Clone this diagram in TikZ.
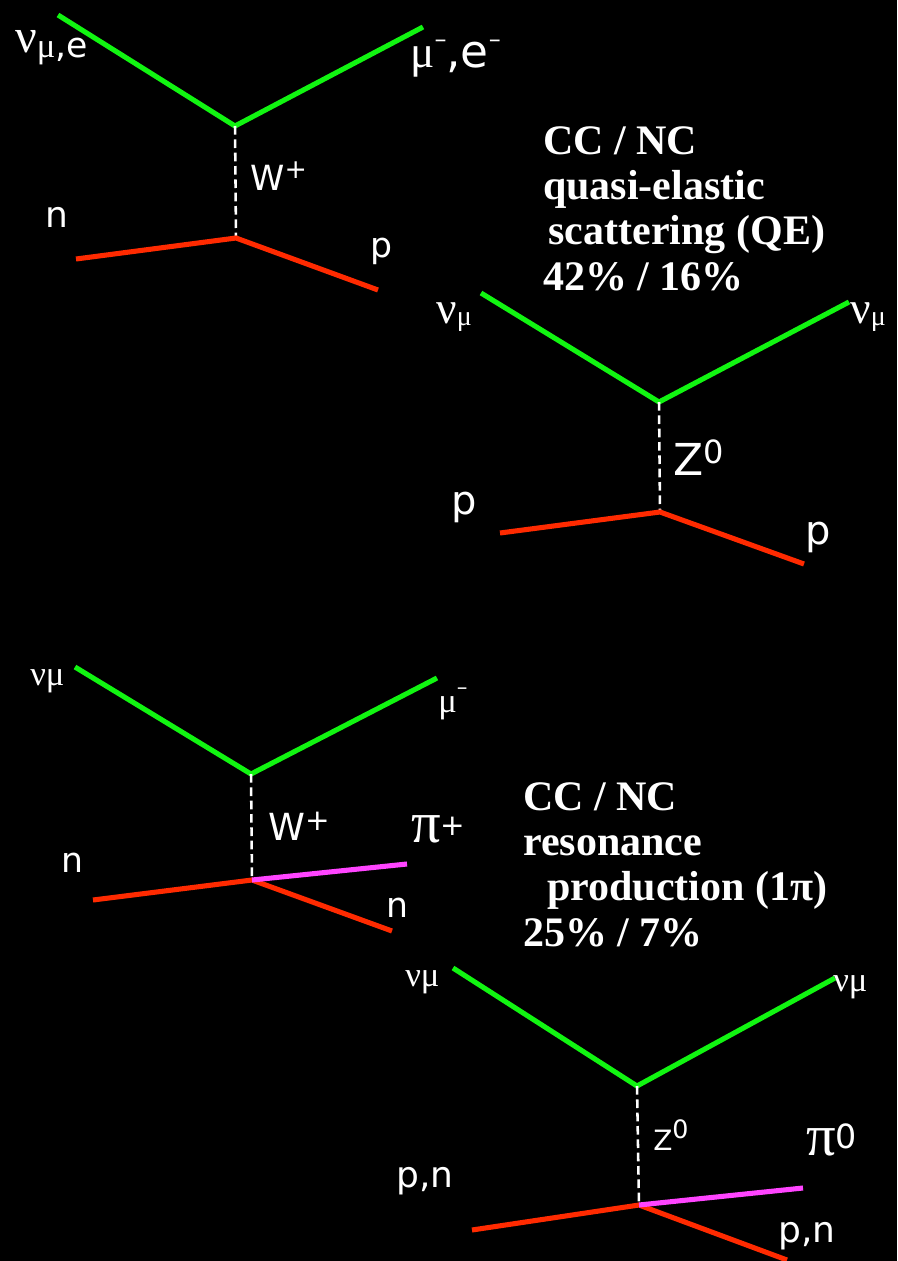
\documentclass[tikz,border=0pt]{standalone}
\usepackage{fontspec}
\setmainfont{Liberation Serif}
\newfontfamily\labfont{DejaVu Sans}
\usepackage{xcolor}
\definecolor{leptongreen}{HTML}{11F511}
\definecolor{nucleonred}{HTML}{FF2A00}
\definecolor{pionpink}{HTML}{FF44FF}
\newcommand\sz[1]{\fontsize{#1}{#1}\selectfont}
\newcommand\lift[3]{\raisebox{#1}{\fontsize{#2}{#2}\selectfont #3}}

\begin{document}
\begin{tikzpicture}[x=0.75pt,y=-0.75pt,
  lepton/.style={draw=leptongreen,line width=3.8pt},
  nucleon/.style={draw=nucleonred,line width=3.8pt},
  pion/.style={draw=pionpink,line width=3.8pt},
  boson/.style={draw=white,line width=1.9pt,dash pattern=on 6.5pt off 3.5pt},
  lbl/.style={text=white,inner sep=0pt,anchor=base west},
  title/.style={text=white,inner sep=0pt,anchor=north west,align=left,
    font=\bfseries\fontsize{31.5pt}{34pt}\selectfont}]
  \fill[black] (0,0) rectangle (897,1261);
  \useasboundingbox (0,0) rectangle (897,1261);

  % CC quasi-elastic
  \coordinate (qe-in) at (58,15);
  \coordinate (qe-out) at (423,27);
  \coordinate (qe-top) at (235,126);
  \coordinate (qe-bot) at (236,238);
  \coordinate (qe-nin) at (76,259);
  \coordinate (qe-nout) at (378,290);
  \draw[lepton] (qe-in) -- (qe-top) -- (qe-out);
  \draw[boson] (qe-top) -- (qe-bot);
  \draw[nucleon] (qe-nin) -- (qe-bot) -- (qe-nout);
  \node[lbl] (qe-nu) at (15,52) {\sz{36pt}ν\lift{-4pt}{26pt}{μ\labfont ,e}};
  \node[lbl] (qe-mu) at (410,67) {\sz{34pt}μ\lift{15pt}{18pt}{\labfont –}{\labfont ,e}\lift{15pt}{18pt}{\labfont –}};
  \node[lbl] (qe-w) at (250,190) {\labfont\sz{26pt}W\lift{8.8pt}{20pt}{+}};
  \node[lbl] (qe-n) at (45,227) {\labfont\sz{27pt}n};
  \node[lbl] (qe-p) at (370,257) {\labfont\sz{26pt}p};

  % NC elastic
  \coordinate (ne-in) at (481,293);
  \coordinate (ne-out) at (849,302);
  \coordinate (ne-top) at (659,402);
  \coordinate (ne-bot) at (660,512);
  \coordinate (ne-nin) at (500,533);
  \coordinate (ne-nout) at (804,564);
  \draw[lepton] (ne-in) -- (ne-top) -- (ne-out);
  \draw[boson] (ne-top) -- (ne-bot);
  \draw[nucleon] (ne-nin) -- (ne-bot) -- (ne-nout);
  \node[lbl] (ne-nu1) at (436,323) {\sz{34pt}ν\lift{-1.5pt}{21pt}{μ}};
  \node[lbl] (ne-nu2) at (850,323) {\sz{34pt}ν\lift{-1.5pt}{21pt}{μ}};
  \node[lbl] (ne-z) at (673,475) {\labfont\sz{33pt}Z\lift{9pt}{24pt}{0}};
  \node[lbl] (ne-p1) at (451,514) {\labfont\sz{30pt}p};
  \node[lbl] (ne-p2) at (805,544) {\labfont\sz{30pt}p};
  \node[title] (qe-title) at (543,126)
    {CC / NC\\quasi-elastic\\\hspace{4pt}scattering (QE)\\42\% / 16\%};

  % CC resonance
  \coordinate (rc-in) at (75,667);
  \coordinate (rc-out) at (437,678);
  \coordinate (rc-top) at (251,774);
  \coordinate (rc-bot) at (252,880);
  \coordinate (rc-nin) at (93,900);
  \coordinate (rc-nout) at (392,931);
  \coordinate (rc-pi) at (407,864);
  \draw[lepton] (rc-in) -- (rc-top) -- (rc-out);
  \draw[boson] (rc-top) -- (rc-bot);
  \draw[nucleon] (rc-nin) -- (rc-bot) -- (rc-nout);
  \draw[pion] (rc-bot) -- (rc-pi);
  \node[lbl] (rc-nu) at (30,685) {\sz{26pt}νμ};
  \node[lbl] (rc-mu) at (438,712) {\sz{26pt}μ\lift{13.5pt}{16pt}{\labfont –}};
  \node[lbl] (rc-w) at (268,840) {\labfont\sz{28pt}W\lift{7.5pt}{22pt}{+}};
  \node[lbl] (rc-pil) at (411,842) {\sz{44pt}π\lift{5pt}{22pt}{\labfont +}};
  \node[lbl] (rc-n1) at (61,872) {\labfont\sz{26pt}n};
  \node[lbl] (rc-n2) at (386,917) {\labfont\sz{26pt}n};

  % NC resonance
  \coordinate (rn-in) at (453,968);
  \coordinate (rn-out) at (835,978);
  \coordinate (rn-top) at (637,1086);
  \coordinate (rn-bot) at (639,1205);
  \coordinate (rn-nin) at (472,1230);
  \coordinate (rn-nout) at (787,1260);
  \coordinate (rn-pi) at (803,1188);
  \draw[lepton] (rn-in) -- (rn-top) -- (rn-out);
  \draw[boson] (rn-top) -- (rn-bot);
  \draw[nucleon] (rn-nin) -- (rn-bot) -- (rn-nout);
  \draw[pion] (rn-bot) -- (rn-pi);
  \node[lbl] (rn-nu1) at (405,986) {\sz{26pt}νμ};
  \node[lbl] (rn-nu2) at (833,991) {\sz{26pt}νμ};
  \node[lbl] (rn-z) at (653,1150) {\labfont\sz{21pt}Z\lift{9pt}{19pt}{0}};
  \node[lbl] (rn-pil) at (806,1155) {\sz{44pt}π\lift{5pt}{25pt}{\labfont 0}};
  \node[lbl] (rn-pn1) at (396,1187) {\labfont\sz{27pt}p,n};
  \node[lbl] (rn-pn2) at (778,1242) {\labfont\sz{27pt}p,n};
  \node[title] (rs-title) at (523,782)
    {CC / NC\\resonance\\\hspace{18pt}production (1π)\\25\% / 7\%};
\end{tikzpicture}
\end{document}
